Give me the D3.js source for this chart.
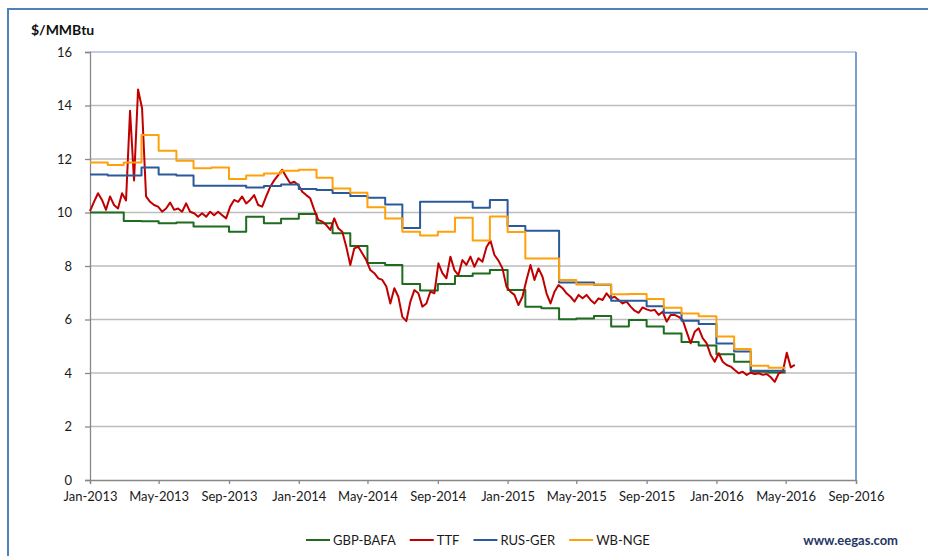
<!DOCTYPE html>
<html>
<head>
<meta charset="utf-8">
<script src="https://cdn.jsdelivr.net/npm/d3@7"></script>
<style>
	body{margin:0;background:#fff}
	svg text{font-family:Lato,'Open Sans',sans-serif}
</style>
</head>
<body>
<div class="chart"></div>
<script>
// monthly prices, Jan-2013 .. Apr-2016
const months=d3.timeMonth.range(new Date(2013,0,1),new Date(2016,4,1))
const monthsEnd=new Date(2016,4,1)

const gbpBafa=[10.0,10.0,9.68,9.67,9.6,9.63,9.48,9.48,9.28,9.84,9.6,9.77,
	9.94,9.6,9.22,8.75,8.11,8.04,7.33,7.08,7.33,7.63,7.72,7.85,
	7.1,6.48,6.42,6.01,6.04,6.13,5.74,5.98,5.74,5.48,5.16,5.03,
	4.7,4.42,4.05,4.02]

const rusGer=[11.42,11.38,11.38,11.68,11.42,11.38,11.0,11.0,11.0,10.93,10.99,11.05,
	10.88,10.84,10.73,10.62,10.55,10.3,9.42,10.4,10.4,10.4,10.18,10.47,
	9.5,9.32,9.32,7.38,7.38,7.3,6.7,6.7,6.5,6.25,5.95,5.83,
	5.1,4.8,4.08,4.08]

const wbNge=[11.87,11.78,11.87,12.9,12.31,11.93,11.65,11.68,11.25,11.38,11.46,11.56,
	11.6,11.3,10.9,10.74,10.2,9.78,9.28,9.14,9.28,9.8,8.95,9.85,
	9.27,8.28,8.28,7.48,7.31,7.31,6.94,6.95,6.77,6.44,6.22,6.12,
	5.36,4.9,4.27,4.2]

// TTF weekly readings from 1 Jan 2013
const ttfStart=new Date(2013,0,1)
const ttfWeekly=[10.05,10.4,10.72,10.47,10.1,10.6,10.28,10.15,10.72,10.45,
	13.8,11.2,14.6,13.9,10.6,10.4,10.28,10.22,10.03,10.15,
	10.37,10.1,10.15,10.03,10.34,10.03,9.97,9.84,9.97,9.84,
	10.03,9.9,10.03,9.9,9.78,10.22,10.47,10.4,10.6,10.34,
	10.47,10.65,10.28,10.22,10.6,10.96,11.2,11.4,11.6,11.34,
	11.09,11.15,11.03,10.78,10.65,10.53,10.1,9.72,9.66,9.53,
	9.35,9.78,9.41,9.28,8.72,8.04,8.66,8.72,8.47,8.22,
	7.85,7.73,7.54,7.48,7.23,6.6,7.17,6.85,6.1,5.94,
	6.67,7.1,6.98,6.48,6.6,7.04,6.98,8.1,7.73,7.54,
	8.35,7.85,7.66,8.22,8.04,8.35,7.97,8.29,8.16,8.7,
	8.95,8.41,8.2,7.91,7.23,7.04,6.92,6.54,6.85,7.48,
	8.04,7.48,7.91,7.6,6.98,6.6,7.04,7.29,7.17,6.98,
	6.85,6.67,6.92,6.79,6.92,6.73,6.6,6.79,6.73,6.98,
	6.79,6.85,6.73,6.6,6.67,6.48,6.33,6.25,6.45,6.38,
	6.33,6.36,6.17,6.29,5.92,6.17,6.17,6.1,5.98,5.54,
	5.11,5.54,5.67,5.3,5.11,4.67,4.42,4.74,4.42,4.3,
	4.24,4.11,3.99,4.05,3.93,4.01,3.96,3.99,3.93,3.96,
	3.84,3.67,3.99,4.05,4.76,4.21,4.3]

const seriesNames=['GBP-BAFA','TTF','RUS-GER','WB-NGE']
const yTicks=[0,2,4,6,8,10,12,14,16]
const xTicks=d3.timeMonth.range(new Date(2013,0,1),new Date(2016,8,2),4)

const colors={'GBP-BAFA':'#1f6b1f','TTF':'#c00000','RUS-GER':'#2a5b98','WB-NGE':'#ffa10a'}

const W=928,H=556
const plot={left:90,right:856,top:52,bottom:480}

const svg=d3.select('.chart').append('svg')
	.attr('width',W)
	.attr('height',H)

// outer chart frame
svg.append('rect')
	.attr('x',8)
	.attr('y',9)
	.attr('width',960)
	.attr('height',600)
	.attr('fill','none')
	.attr('stroke','#4f81bd')
	.attr('stroke-width',2)

const xScale=d3.scaleTime()
	.domain([new Date(2013,0,1),new Date(2016,8,1)])
	.range([plot.left,plot.right])

const yScale=d3.scaleLinear()
	.domain([0,16])
	.range([plot.bottom,plot.top])

// gridlines
svg.append('g')
	.selectAll('line')
	.data(yTicks.filter(d=>d>0))
	.enter()
	.append('line')
	.attr('x1',plot.left)
	.attr('x2',plot.right)
	.attr('y1',d=>yScale(d))
	.attr('y2',d=>yScale(d))
	.attr('stroke',d=>d==16?'#a8bfdc':'#bcbcbc')
	.attr('stroke-width',1.5)

// right edge of plot area
svg.append('line')
	.attr('x1',plot.right)
	.attr('x2',plot.right)
	.attr('y1',plot.top)
	.attr('y2',plot.bottom)
	.attr('stroke','#4f81bd')
	.attr('stroke-width',1.5)

const yAxis=d3.axisLeft(yScale)
	.tickValues(yTicks)
	.tickSize(5)
	.tickPadding(13)
	.tickFormat(d3.format('d'))

const xAxis=d3.axisBottom(xScale)
	.tickValues(xTicks)
	.tickSize(4)
	.tickPadding(8)
	.tickFormat(d3.timeFormat('%b-%Y'))

svg.append('g')
	.attr('class','y-axis')
	.attr('transform',`translate(${plot.left},0)`)
	.call(yAxis)

svg.append('g')
	.attr('class','x-axis')
	.attr('transform',`translate(0,${plot.bottom})`)
	.call(xAxis)

svg.selectAll('.x-axis path, .y-axis path, .x-axis line, .y-axis line')
	.attr('stroke','#888')
	.attr('stroke-width',1.3)
svg.selectAll('.x-axis text, .y-axis text')
	.attr('font-size',13)
	.attr('fill','#1a1a1a')
	.style('font-family','Lato, sans-serif')

svg.append('text')
	.attr('x',31)
	.attr('y',35)
	.attr('font-size',14)
	.attr('font-weight','bold')
	.attr('fill','#111')
	.text('$/MMBtu')

const stepLine=d3.line()
	.x(d=>xScale(d.date))
	.y(d=>yScale(d.value))
	.curve(d3.curveStepAfter)

const dailyLine=d3.line()
	.x(d=>xScale(d.date))
	.y(d=>yScale(d.value))

function monthly(values){
	let data=months.map((m,i)=>({date:m,value:values[i]}))
	data.push({date:monthsEnd,value:values[values.length-1]})
	return data
}

const ttfData=ttfWeekly.map((v,i)=>({date:d3.timeDay.offset(ttfStart,7*i),value:v}))

const series=[
	{name:'GBP-BAFA',data:monthly(gbpBafa),line:stepLine},
	{name:'TTF',data:ttfData,line:dailyLine},
	{name:'RUS-GER',data:monthly(rusGer),line:stepLine},
	{name:'WB-NGE',data:monthly(wbNge),line:stepLine}
]

svg.append('g')
	.selectAll('path')
	.data(series)
	.enter()
	.append('path')
	.attr('d',d=>d.line(d.data))
	.attr('fill','none')
	.attr('stroke',d=>colors[d.name])
	.attr('stroke-width',2)
	.attr('stroke-linejoin','round')

// legend
const legend=svg.append('g')
	.attr('transform','translate(0,540)')
let lx=306
seriesNames.forEach(function(name){
	legend.append('line')
		.attr('x1',lx)
		.attr('x2',lx+24)
		.attr('y1',0)
		.attr('y2',0)
		.attr('stroke',colors[name])
		.attr('stroke-width',2)
	const t=legend.append('text')
		.attr('x',lx+27)
		.attr('y',4.5)
		.attr('font-size',13)
		.attr('fill','#1a1a1a')
		.text(name)
	lx+=27+t.node().getComputedTextLength()+14
})

svg.append('text')
	.attr('x',898)
	.attr('y',545)
	.attr('text-anchor','end')
	.attr('font-size',13)
	.attr('font-weight','bold')
	.attr('fill','#1f3864')
	.text('www.eegas.com')
</script>
</body>
</html>
